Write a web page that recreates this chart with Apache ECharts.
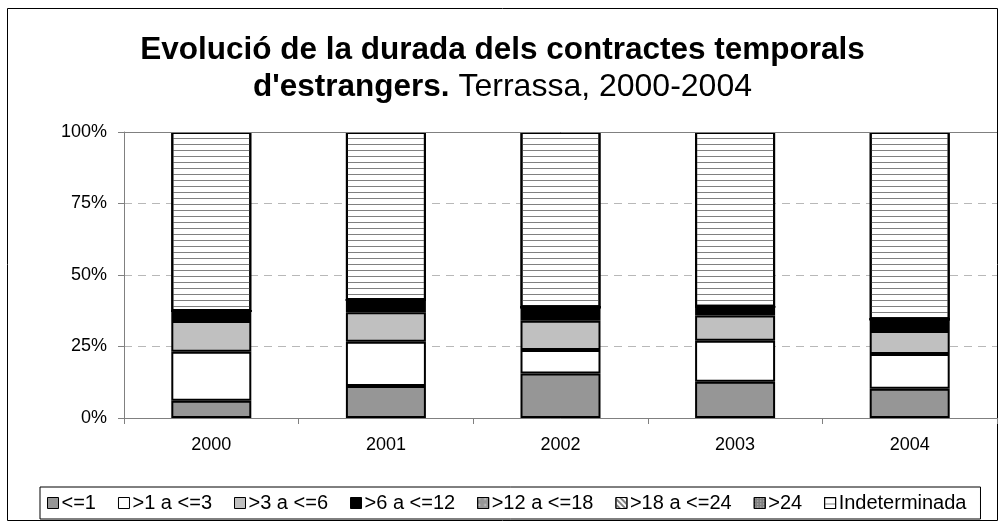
<!DOCTYPE html>
<html>
<head>
<meta charset="utf-8">
<script src="https://cdn.jsdelivr.net/npm/echarts@6/dist/echarts.min.js"></script>
<style>
  html, body { margin: 0; padding: 0; background: #fff; }
  #chart { width: 1005px; height: 529px; }
</style>
</head>
<body>
<div id="chart"></div>
<script>
// anys i percentatges llegits del gràfic (acumulat = 100)
const years = ['2000', '2001', '2002', '2003', '2004'];
const fins1 = [6.0, 11.2, 15.6, 12.7, 10.2];
const de1a3 = [17.2, 15.5, 8.2, 14.3, 12.2];
const de3a6 = [10.7, 10.3, 10.2, 8.8, 8.0];
const de6a12 = [3.5, 4.3, 4.7, 3.1, 4.1];
const de12a18 = [0, 0, 0, 0, 0];
const de18a24 = [0, 0, 0, 0, 0];
const mesDe24 = [0, 0, 0, 0, 0];
const indeterminada = [62.6, 58.7, 61.3, 61.1, 65.5];

const font = 'Liberation Sans, Arial, sans-serif';

function serie(name, data, color, decal) {
  const s = {
    name: name,
    type: 'bar',
    stack: 'total',
    data: data,
    barWidth: 80,
    itemStyle: { color: color, borderColor: '#000', borderWidth: 2 }
  };
  if (decal) s.itemStyle.decal = decal;
  return s;
}

const chart = echarts.init(document.getElementById('chart'));
const series = [
  serie('<=1', fins1, '#969696'),
  serie('>1 a <=3', de1a3, '#ffffff'),
  serie('>3 a <=6', de3a6, '#c0c0c0'),
  serie('>6 a <=12', de6a12, '#000000'),
  serie('>12 a <=18', de12a18, '#969696', { symbol: 'rect', color: '#d0d0d0', symbolSize: 0.6, dashArrayX: [3, 3], dashArrayY: [3, 3] }),
  serie('>18 a <=24', de18a24, '#ffffff', { symbol: 'rect', color: '#808080', symbolSize: 1, dashArrayX: [[1, 0]], dashArrayY: [2, 2], rotation: Math.PI / 4 }),
  serie('>24', mesDe24, '#808080', { symbol: 'rect', color: '#d0d0d0', symbolSize: 1, dashArrayX: [1, 2], dashArrayY: [1, 2] }),
  serie('Indeterminada', indeterminada, '#ffffff', { symbol: 'rect', color: '#808080', symbolSize: 1, dashArrayX: [[1, 0]], dashArrayY: [1, 5] })
];
// línia superior (100%) contínua
series[7].markLine = {
  silent: true,
  symbol: 'none',
  label: { show: false },
  lineStyle: { color: '#808080', type: 'solid', width: 1 },
  data: [{ yAxis: 100 }]
};

chart.setOption({
  animation: false,
  backgroundColor: '#fff',
  textStyle: { fontFamily: font },
  title: {
    left: 'center',
    top: 27,
    text: '{b|Evolució de la durada dels contractes temporals}\n{b|d\'estrangers.}{n| Terrassa, 2000-2004}',
    textStyle: {
      rich: {
        b: { fontFamily: font, fontSize: 31.5, fontWeight: 'bold', color: '#000', lineHeight: 37 },
        n: { fontFamily: font, fontSize: 32, fontWeight: 'normal', color: '#000', lineHeight: 37 }
      }
    }
  },
  legend: {
    left: 40,
    top: 487,
    padding: [6, 14, 6, 7],
    borderColor: '#000',
    borderWidth: 1,
    itemGap: 22,
    itemWidth: 11,
    itemHeight: 11,
    icon: 'rect',
    itemStyle: { borderWidth: 1 },
    textStyle: { fontFamily: font, fontSize: 20, color: '#000', padding: [0, 0, 0, -2] },
    data: series.map(s => s.name)
  },
  graphic: [{
    type: 'rect',
    shape: { x: 7.5, y: 8.5, width: 990, height: 512 },
    style: { fill: 'none', stroke: '#000', lineWidth: 1 },
    silent: true
  }],
  grid: { left: 124, right: 8, top: 132, bottom: 111 },
  xAxis: {
    type: 'category',
    data: years,
    axisLine: { lineStyle: { color: '#808080', width: 1 } },
    axisTick: { show: true, alignWithLabel: false, length: 6, lineStyle: { color: '#808080' } },
    axisLabel: { color: '#000', fontSize: 18, fontFamily: font, margin: 18 }
  },
  yAxis: {
    type: 'value',
    min: 0,
    max: 100,
    interval: 25,
    axisLine: { show: true, lineStyle: { color: '#808080', width: 1 } },
    axisTick: { show: true, length: 6, lineStyle: { color: '#808080' } },
    axisLabel: { formatter: '{value}%', color: '#000', fontSize: 18, fontFamily: font, margin: 17 },
    splitLine: { show: true, lineStyle: { color: '#b8b8b8', type: [8, 6] } }
  },
  series: series
});
</script>
</body>
</html>
